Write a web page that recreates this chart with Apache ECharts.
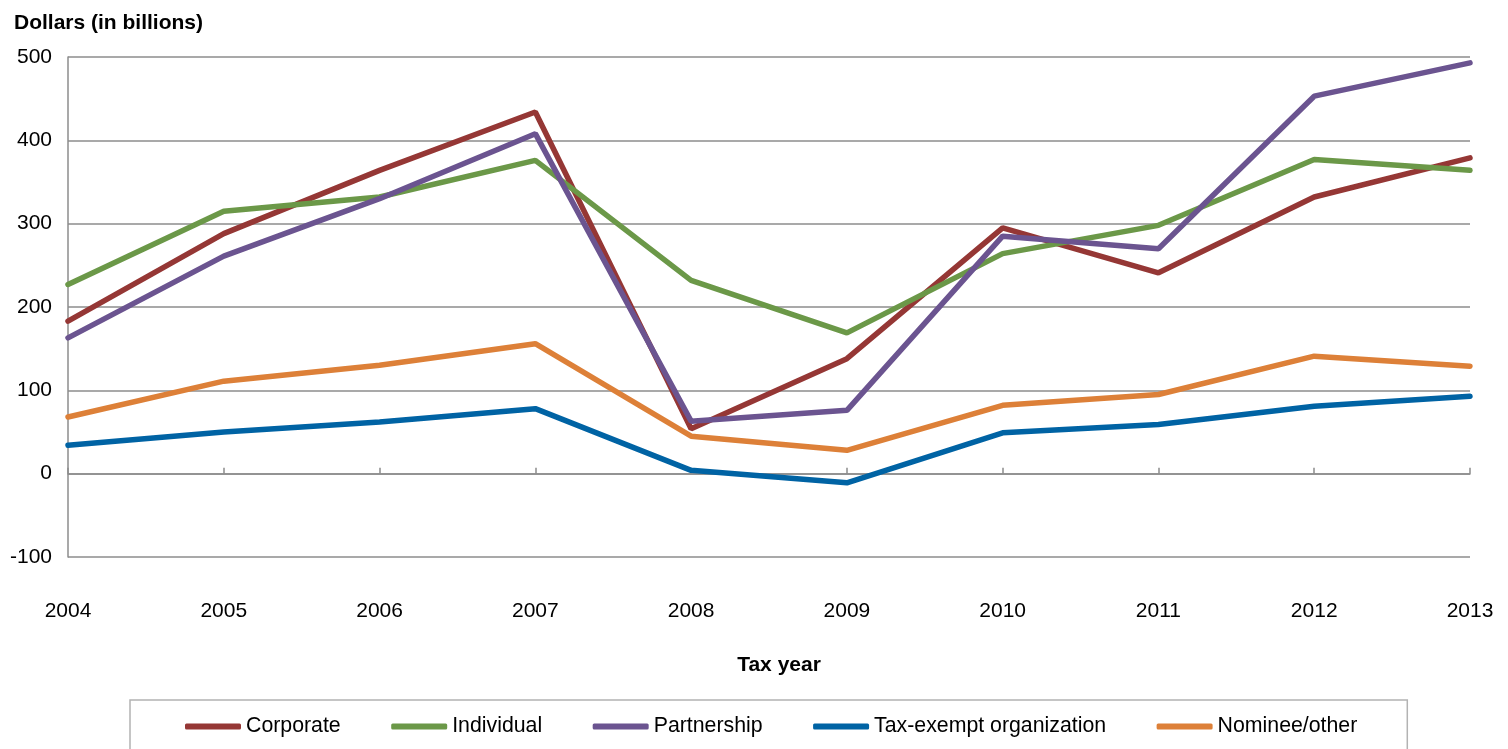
<!DOCTYPE html>
<html>
<head>
<meta charset="utf-8">
<script src="https://cdn.jsdelivr.net/npm/echarts@6/dist/echarts.min.js"></script>
<style>
  html, body { margin: 0; padding: 0; background: #fff; }
  #chart { width: 1508px; height: 749px; }
</style>
</head>
<body>
<div id="chart"></div>
<script>
// Tax years on the category axis
const years = ['2004', '2005', '2006', '2007', '2008', '2009', '2010', '2011', '2012', '2013'];

// Dollars (in billions) by owner type
const corporate   = [183, 288, 364, 434, 54, 138, 295, 241, 332, 379];
const individual  = [227, 315, 332, 376, 232, 169, 264, 298, 377, 364];
const partnership = [163, 261, 330, 408, 63, 76, 285, 270, 453, 493];
const taxExempt   = [34, 50, 62, 78, 4, -11, 49, 59, 81, 93];
const nominee     = [68, 111, 130, 156, 45, 28, 82, 95, 141, 129];

// Value axis range and step
const yMin = -100;
const yMax = 500;
const yStep = 100;

const seriesDefs = [
  { name: 'Corporate', data: corporate, color: '#953735' },
  { name: 'Individual', data: individual, color: '#6b9848' },
  { name: 'Partnership', data: partnership, color: '#6b5490' },
  { name: 'Tax-exempt organization', data: taxExempt, color: '#0063a4' },
  { name: 'Nominee/other', data: nominee, color: '#dd8038' }
];

const font = 'Liberation Sans, Arial, sans-serif';
const gridColor = '#8c8c8c';

const chart = echarts.init(document.getElementById('chart'), null, { renderer: 'canvas' });

chart.setOption({
  backgroundColor: '#ffffff',
  animation: false,
  title: {
    text: 'Dollars (in billions)',
    left: 9,
    top: 8,
    textStyle: { fontFamily: font, fontSize: 21, fontWeight: 'bold', color: '#000' }
  },
  grid: { left: 68, right: 38, top: 57, bottom: 192, containLabel: false },
  legend: {
    data: seriesDefs.map(s => s.name),
    left: 130,
    top: 700,
    padding: [16, 50, 40, 55],
    itemGap: 50.5,
    itemWidth: 56,
    itemHeight: 6,
    icon: 'roundRect',
    borderColor: '#b3b3b3',
    borderWidth: 1.5,
    textStyle: { fontFamily: font, fontSize: 21.3, color: '#000' }
  },
  xAxis: [
    {
      type: 'category',
      data: years,
      boundaryGap: false,
      position: 'bottom',
      axisLine: { show: false, onZero: false },
      axisTick: { show: false },
      axisLabel: { margin: 44, fontFamily: font, fontSize: 21, color: '#000' },
      name: 'Tax year',
      nameLocation: 'middle',
      nameGap: 98,
      nameTextStyle: { fontFamily: font, fontSize: 21, fontWeight: 'bold', color: '#000', padding: [0, 0, 0, 20] }
    },
    {
      type: 'category',
      data: years,
      boundaryGap: false,
      position: 'bottom',
      axisLine: { show: true, onZero: true, lineStyle: { color: gridColor, width: 1.5 } },
      axisTick: { show: true, inside: true, length: 6, lineStyle: { color: gridColor, width: 1.5 } },
      axisLabel: { show: false }
    }
  ],
  yAxis: {
    type: 'value',
    min: yMin,
    max: yMax,
    interval: yStep,
    axisLine: { show: true, lineStyle: { color: gridColor, width: 1.5 } },
    axisTick: { show: false },
    axisLabel: { margin: 16, fontFamily: font, fontSize: 21, color: '#000' },
    splitLine: { show: true, lineStyle: { color: gridColor, width: 1.5 } }
  },
  series: seriesDefs.map(s => ({
    name: s.name,
    type: 'line',
    xAxisIndex: 0,
    data: s.data,
    symbol: 'none',
    color: s.color,
    lineStyle: { color: s.color, width: 5.5, cap: 'round' },
    emphasis: { disabled: true }
  }))
});
</script>
</body>
</html>
